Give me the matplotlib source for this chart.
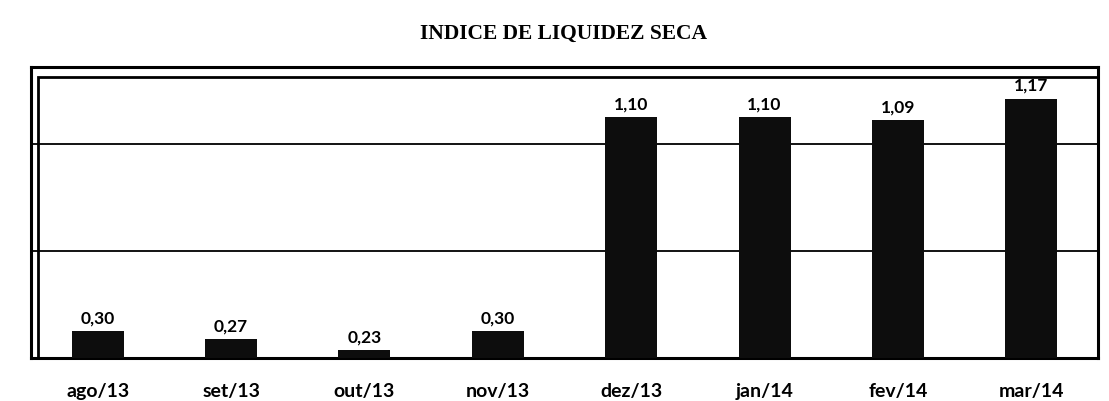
import matplotlib.pyplot as plt
from matplotlib.patches import Rectangle

# dados do gráfico
meses = ["ago/13", "set/13", "out/13", "nov/13", "dez/13", "jan/14", "fev/14", "mar/14"]
indice = [0.30, 0.27, 0.23, 0.30, 1.10, 1.10, 1.09, 1.17]
rotulos = ["0,30", "0,27", "0,23", "0,30", "1,10", "1,10", "1,09", "1,17"]

fig = plt.figure(figsize=(11.09, 4.02), dpi=100)
ax = fig.add_axes([31 / 1109, 43 / 402, (1098 - 31) / 1109, (359 - 68) / 402])

x = range(len(meses))
ax.bar(x, indice, width=0.39, color="#0d0d0d", zorder=3)

for i in x:
    ax.text(i, indice[i] + 0.022, rotulos[i], ha="center", va="bottom",
            fontsize=12.5, fontweight="bold", family="Lato", zorder=4)

ax.set_xlim(-0.5, 7.5)
ax.set_ylim(0.2, 1.288)
ax.set_yticks([0.6, 1.0])
ax.yaxis.grid(True, color="black", linewidth=1.3)
ax.tick_params(axis="y", left=False, labelleft=False)
ax.tick_params(axis="x", bottom=False, pad=13.5)
ax.set_xticks(list(x))
ax.set_xticklabels(meses, fontsize=14, fontweight="bold", family="Lato")

for s in ax.spines.values():
    s.set_linewidth(2.2)
    s.set_color("black")

# moldura interna (duplo contorno)
ax.add_patch(Rectangle((0.0065, 0), 0.9935, 0.965, transform=ax.transAxes,
                       fill=False, edgecolor="black", linewidth=2.0, zorder=2))

fig.text(0.508, 0.915, "INDICE DE LIQUIDEZ SECA", ha="center", va="center",
         fontsize=15.5, fontweight="bold", family="Liberation Serif")

fig.savefig("out.png", dpi=100)
